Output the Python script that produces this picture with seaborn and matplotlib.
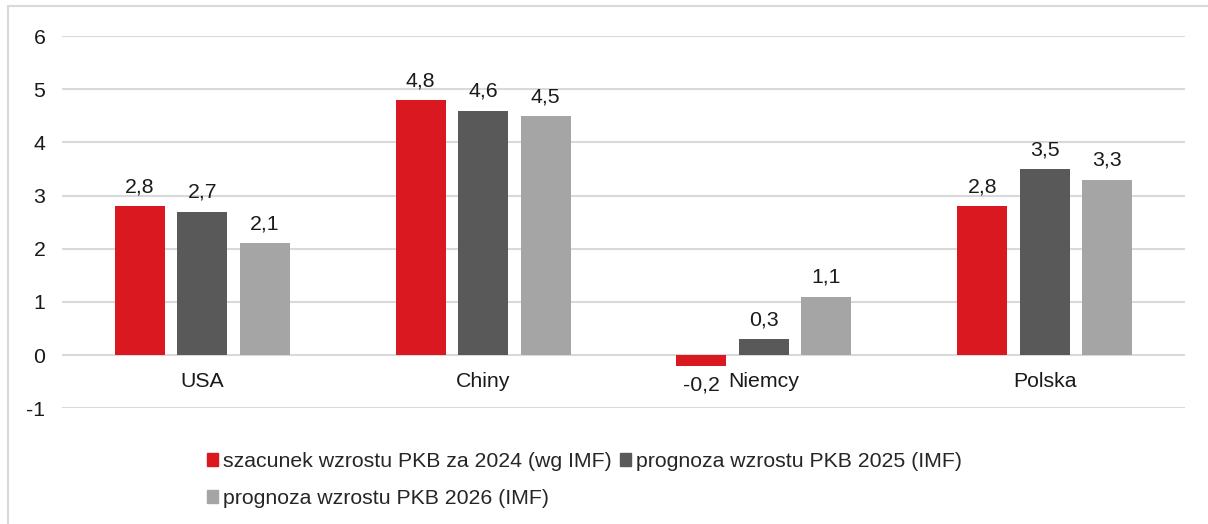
import matplotlib
matplotlib.use("Agg")
import matplotlib.pyplot as plt
import matplotlib.patches as mpatches
import seaborn as sns
import pandas as pd

kraje = ["USA", "Chiny", "Niemcy", "Polska"]
serie = ["szacunek wzrostu PKB za 2024 (wg IMF)",
         "prognoza wzrostu PKB 2025 (IMF)",
         "prognoza wzrostu PKB 2026 (IMF)"]
pkb_2024 = [2.8, 4.8, -0.2, 2.8]
pkb_2025 = [2.7, 4.6, 0.3, 3.5]
pkb_2026 = [2.1, 4.5, 1.1, 3.3]
kolory = ["#D9181F", "#595959", "#A5A5A5"]
y_ticks = [-1, 0, 1, 2, 3, 4, 5, 6]

rows = []
for s, vals in zip(serie, [pkb_2024, pkb_2025, pkb_2026]):
    for k, v in zip(kraje, vals):
        rows.append({"kraj": k, "seria": s, "wartosc": v})
df = pd.DataFrame(rows)

sns.set_theme(style="white")
plt.rcParams["font.family"] = ["Liberation Sans", "DejaVu Sans"]
fs = 15.3

fig = plt.figure(figsize=(12.08, 5.24), dpi=100)
ax = fig.add_axes([0.0513, 0.221, 0.9297, 0.71])

sns.barplot(data=df, x="kraj", y="wartosc", hue="seria", order=kraje,
            hue_order=serie, palette=kolory, width=0.668, gap=0.2,
            saturation=1, legend=False, ax=ax, linewidth=0)

ax.set_xlim(-0.5, 3.5)
ax.set_ylim(-1, 6)
ax.set_yticks(y_ticks)
ax.set_yticklabels([str(t) for t in y_ticks], fontsize=fs, color="#1a1a1a")
ax.tick_params(axis="y", length=0, pad=12)
ax.set_xticks([])
ax.set_xlabel("")
ax.set_ylabel("")
ax.grid(axis="y", color="#D9D9D9", linewidth=1.5)
ax.set_axisbelow(True)
for sp in ax.spines.values():
    sp.set_visible(False)

for cont in ax.containers:
    labs = [f"{b.get_height():.1f}".replace(".", ",") for b in cont]
    ax.bar_label(cont, labels=labs, padding=7, fontsize=fs, color="#1a1a1a")

for i, k in enumerate(kraje):
    ax.text(i, -0.5, k, ha="center", va="center", fontsize=fs, color="#1a1a1a")

handles = [mpatches.Patch(color=c) for c in kolory]
order = [0, 2, 1]
leg = fig.legend([handles[i] for i in order], [serie[i] for i in order],
                 ncol=2, loc="upper left", bbox_to_anchor=(0.171, 0.137),
                 frameon=False, fontsize=fs, handlelength=0.55, handleheight=0.55,
                 handletextpad=0.2, columnspacing=0.4, labelspacing=0.85,
                 borderaxespad=0, borderpad=0)

fig.add_artist(mpatches.Rectangle((8 / 1208, -0.1), 2, 1 - 6 / 524 + 0.1,
                                  transform=fig.transFigure, fill=False,
                                  edgecolor="#D9D9D9", linewidth=1.5, clip_on=False))

fig.savefig("out.png", dpi=100)
